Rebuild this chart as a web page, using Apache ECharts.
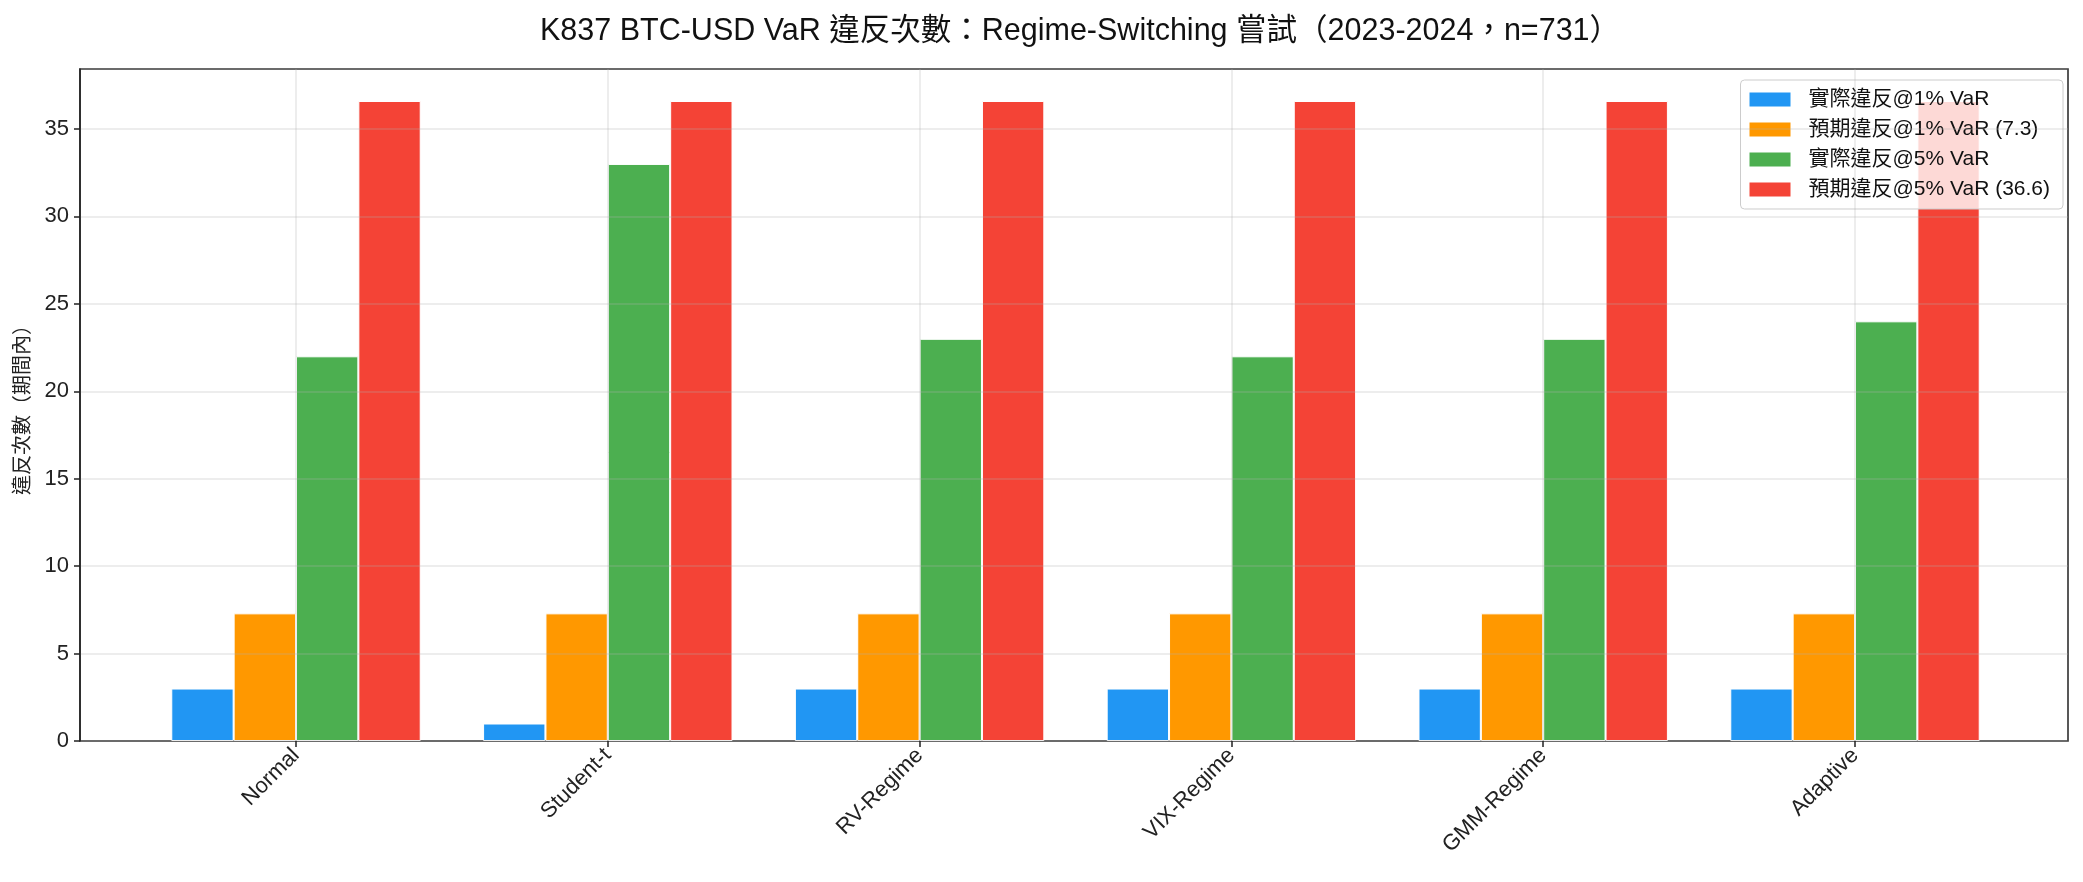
<!DOCTYPE html>
<html>
<head>
<meta charset="utf-8">
<script src="https://cdn.jsdelivr.net/npm/echarts@6/dist/echarts.min.js"></script>
<style>
  html, body { margin: 0; padding: 0; background: #fff; }
  #main { width: 2083px; height: 882px; }
</style>
</head>
<body>
<div id="main"></div>
<script>
// data
var categories = ['Normal', 'Student-t', 'RV-Regime', 'VIX-Regime', 'GMM-Regime', 'Adaptive'];
var seriesNames = ['實際違反@1% VaR', '預期違反@1% VaR (7.3)', '實際違反@5% VaR', '預期違反@5% VaR (36.6)'];
var actual1 = [3, 1, 3, 3, 3, 3];
var expected1 = [7.3, 7.3, 7.3, 7.3, 7.3, 7.3];
var actual5 = [22, 33, 23, 22, 23, 24];
var expected5 = [36.6, 36.6, 36.6, 36.6, 36.6, 36.6];
var colors = ['#2196F3', '#FF9800', '#4CAF50', '#F44336'];

var font = '"Liberation Sans", "Noto Sans CJK TC", sans-serif';
var yMax = 38.43;

var myChart = echarts.init(document.getElementById('main'));

function barSeries(i, data) {
  return {
    name: seriesNames[i],
    type: 'bar',
    xAxisIndex: 1,
    yAxisIndex: 1,
    data: data,
    barWidth: '20%',
    barGap: '0%',
    clip: false,
    itemStyle: { color: colors[i], borderColor: '#fff', borderWidth: 1 }
  };
}

myChart.setOption({
  animation: false,
  textStyle: { fontFamily: font },
  title: {
    text: 'K837 BTC-USD VaR 違反次數：Regime-Switching 嘗試（2023-2024，n=731）',
    left: 535,
    top: 11,
    textStyle: { fontSize: 30.5, fontWeight: 'normal', color: '#111', fontFamily: font }
  },
  legend: {
    orient: 'vertical',
    right: 20,
    top: 80,
    icon: 'rect',
    itemWidth: 41,
    itemHeight: 14,
    itemGap: 9,
    padding: [9, 13, 9, 9],
    backgroundColor: 'rgba(255,255,255,0.8)',
    borderColor: '#ccc',
    borderWidth: 1,
    borderRadius: 4,
    itemStyle: { borderWidth: 0 },
    textStyle: { fontSize: 21, color: '#111', lineHeight: 20, padding: [0, 0, 0, 13], fontFamily: font },
    data: seriesNames
  },
  grid: [
    { left: 80, right: 15, top: 69, bottom: 141, show: true, borderColor: '#222', borderWidth: 1.5 },
    { left: 296, right: 228, top: 69, bottom: 141 }
  ],
  xAxis: [
    { type: 'value', gridIndex: 0, show: false, min: 0, max: 1 },
    {
      type: 'category',
      gridIndex: 1,
      data: categories,
      boundaryGap: false,
      z: 5,
      axisLine: { show: false },
      axisTick: { show: true, length: 6, lineStyle: { color: '#222', width: 1.5 } },
      axisLabel: { rotate: 45, fontSize: 22, color: '#222', margin: 11 },
      splitLine: { show: true, lineStyle: { color: '#b0b0b0', opacity: 0.3, width: 1.5 } }
    }
  ],
  yAxis: [
    {
      type: 'value',
      gridIndex: 0,
      min: 0,
      max: yMax,
      interval: 5,
      z: 5,
      name: '違反次數（期間內）',
      nameLocation: 'middle',
      nameGap: 46,
      nameTextStyle: { fontSize: 20, color: '#222' },
      axisLine: { show: true, lineStyle: { color: '#222', width: 1.5 } },
      axisTick: { show: true, length: 6, lineStyle: { color: '#222', width: 1.5 } },
      axisLabel: { fontSize: 22, color: '#222', margin: 11, showMaxLabel: false },
      splitLine: { show: true, lineStyle: { color: '#b0b0b0', opacity: 0.3, width: 1.5 } }
    },
    { type: 'value', gridIndex: 1, min: 0, max: yMax, show: false }
  ],
  series: [
    barSeries(0, actual1),
    barSeries(1, expected1),
    barSeries(2, actual5),
    barSeries(3, expected5)
  ]
});
</script>
</body>
</html>
